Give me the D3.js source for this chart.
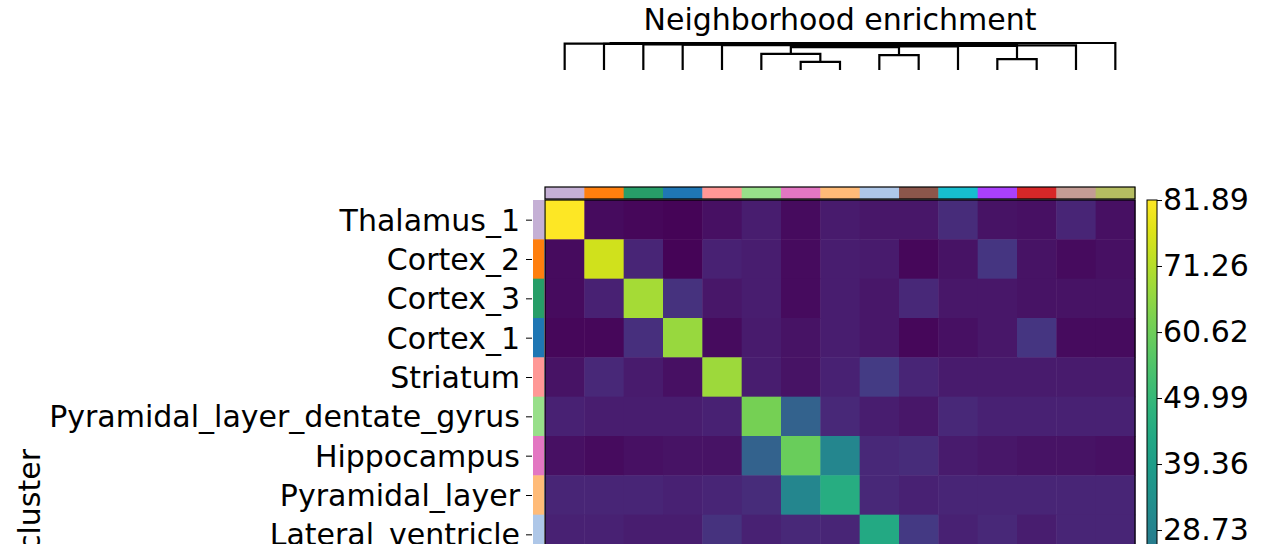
<!DOCTYPE html><html><head><meta charset="utf-8">
<script src="https://cdn.jsdelivr.net/npm/d3@7"></script>
<style>body{margin:0;background:#fff}svg{font-family:"DejaVu Sans",sans-serif}</style></head><body>
<svg id="c" width="1280" height="544"></svg>
<script>
const categories=["Thalamus_1","Cortex_2","Cortex_3","Cortex_1","Striatum","Pyramidal_layer_dentate_gyrus","Hippocampus","Pyramidal_layer","Lateral_ventricle","Fiber_tract","Hypothalamus_2","Cortex_5","Cortex_4","Thalamus_2","Hypothalamus_1"];
const clusterColors=["#c5b0d5","#ff7f0e","#279e68","#1f77b4","#ff9896","#98df8a","#e377c2","#ffbb78","#aec7e8","#8c564b","#17becf","#aa40fc","#d62728","#c49c94","#b5bd61"];
const values=[
[81.89,-11,-12,-13,-10,-6,-11,-7,-8,-8,-2,-9,-10,-4,-10],
[-11,75,-4,-13,-5,-6,-11,-6,-7,-12,-9,1,-9,-11,-10],
[-11,-5,69,0,-8,-6,-11,-6,-8,-3,-8,-8,-9,-9,-9],
[-12,-12,-1,67,-11,-7,-9,-6,-8,-12,-10,-8,1,-11,-11],
[-9,-3,-7,-10,68,-6,-9,-5,3,-4,-7,-7,-7,-7,-7],
[-5,-6,-6,-6,-5,62,16,-3,-6,-8,-3,-5,-5,-5,-5],
[-10,-11,-10,-9,-9,16,60,30,-3,-2,-7,-8,-9,-9,-10],
[-4,-4,-4,-5,-4,-2,30,46,-3,-5,-4,-4,-4,-4,-4],
[-5,-5,-6,-6,0,-5,-3,-4,44,2,-5,-3,-6,-4,-4],
[-8,-12,-3,-12,-4,-8,-2,-5,2,50,-3,-6,-7,-8,-5],
[-2,-9,-8,-10,-7,-3,-7,-4,-5,-3,55,-5,-8,-6,10],
[-9,1,-8,-8,-7,-5,-8,-4,-3,-6,-5,70,-4,-10,-9],
[-10,-9,-9,1,-7,-5,-9,-4,-6,-7,-8,-4,72,-9,-10],
[-4,-11,-9,-11,-7,-5,-9,-4,-4,-8,-6,-10,-9,60,-3],
[-10,-10,-9,-11,-7,-5,-10,-4,-4,-5,10,-9,-10,-3,58]];
const vmin=-13.79,vmax=81.89;
const cbTicks=["81.89","71.26","60.62","49.99","39.36","28.73","18.10","7.47","-3.16","-13.79"];
const links=[[6,0,7,0,.3],[11,0,12,0,.4],[5,0,6.5,.3,.6],[8,0,9,0,.55],
[5.75,.6,8.5,.55,.85],[7.125,.85,10,0,.87],[8.56,.87,11.5,.4,.89],[10.03,.89,13,0,.91],
[4,0,11.5,.91,.92],[3,0,7.75,.92,.94],[2,0,5.4,.94,.95],[1,0,3.7,.95,.97],[0,0,2.35,.97,.98],[1.17,.98,14,0,1.0]];

const FS=30;
const svg=d3.select("#c");
const x0=545,y0=200,W=590,n=categories.length,H=W;
const x=d3.scaleBand().domain(d3.range(n)).range([x0,x0+W]);
const y=d3.scaleBand().domain(d3.range(n)).range([y0,y0+H]);
const color=d3.scaleSequential(d3.interpolateViridis).domain([vmin,vmax]);
const cells=[];values.forEach((r,i)=>r.forEach((v,j)=>cells.push({i,j,v})));
svg.append("g").selectAll("rect").data(cells).join("rect")
 .attr("x",d=>x(d.j)).attr("y",d=>y(d.i)).attr("width",x.bandwidth()+0.5).attr("height",y.bandwidth()+0.5)
 .attr("fill",d=>color(d.v));
svg.append("rect").attr("x",x0).attr("y",y0).attr("width",W).attr("height",H).attr("fill","none").attr("stroke","#000").attr("stroke-width",1.2);
svg.append("g").selectAll("rect").data(clusterColors).join("rect")
 .attr("x",(d,i)=>x(i)).attr("y",187).attr("width",x.bandwidth()+0.5).attr("height",12).attr("fill",d=>d);
svg.append("rect").attr("x",x0).attr("y",187).attr("width",W).attr("height",12).attr("fill","none").attr("stroke","#000").attr("stroke-width",1.2);
svg.append("g").selectAll("rect").data(clusterColors).join("rect")
 .attr("x",533).attr("y",(d,i)=>y(i)).attr("width",11).attr("height",y.bandwidth()+0.5).attr("fill",d=>d);
const yl=d3.scalePoint().domain(categories).range([y0+y.bandwidth()/2,y0+H-y.bandwidth()/2]);
const ax=svg.append("g").attr("transform","translate(532,0)").call(d3.axisLeft(yl).tickSize(6).tickPadding(6));
ax.select(".domain").remove();
ax.selectAll("text").attr("font-size",FS).attr("font-family","DejaVu Sans").attr("fill","#000").attr("dy","0.35em");
ax.selectAll("line").attr("stroke","#000");
svg.append("text").attr("transform","translate(40,500) rotate(-90)").attr("text-anchor","middle").attr("font-size",FS).text("cluster");
const cbx=1147,cbw=10,cbH=594;
const cy=d3.scaleLinear().domain([vmin,vmax]).range([y0+cbH,y0]);
const defs=svg.append("defs");const lg=defs.append("linearGradient").attr("id","g").attr("x1",0).attr("x2",0).attr("y1",1).attr("y2",0);
d3.range(0,1.01,0.05).forEach(t=>lg.append("stop").attr("offset",t).attr("stop-color",d3.interpolateViridis(t)));
svg.append("rect").attr("x",cbx).attr("y",y0).attr("width",cbw).attr("height",cbH).attr("fill","url(#g)").attr("stroke","#000");
const cax=svg.append("g").attr("transform",`translate(${cbx+cbw},0)`).call(d3.axisRight(cy).tickValues(cbTicks.map(Number)).tickFormat((d,i)=>cbTicks[i]).tickSize(5).tickPadding(1));
cax.select(".domain").remove();
cax.selectAll("text").attr("font-size",FS).attr("font-family","DejaVu Sans").attr("fill","#000");
cax.selectAll("line").attr("stroke","#000");
const dx=p=>x(0)+x.bandwidth()/2+p*x.bandwidth();
const dy=d3.scaleLinear().domain([0,1]).range([70,43]);
svg.append("g").selectAll("path").data(links).join("path")
 .attr("d",d=>`M${dx(d[0])},${dy(d[1])}V${dy(d[4])}H${dx(d[2])}V${dy(d[3])}`)
 .attr("fill","none").attr("stroke","#000").attr("stroke-width",2.2);
svg.append("text").attr("x",840).attr("y",30).attr("text-anchor","middle").attr("font-size",FS).text("Neighborhood enrichment");
</script></body></html>
